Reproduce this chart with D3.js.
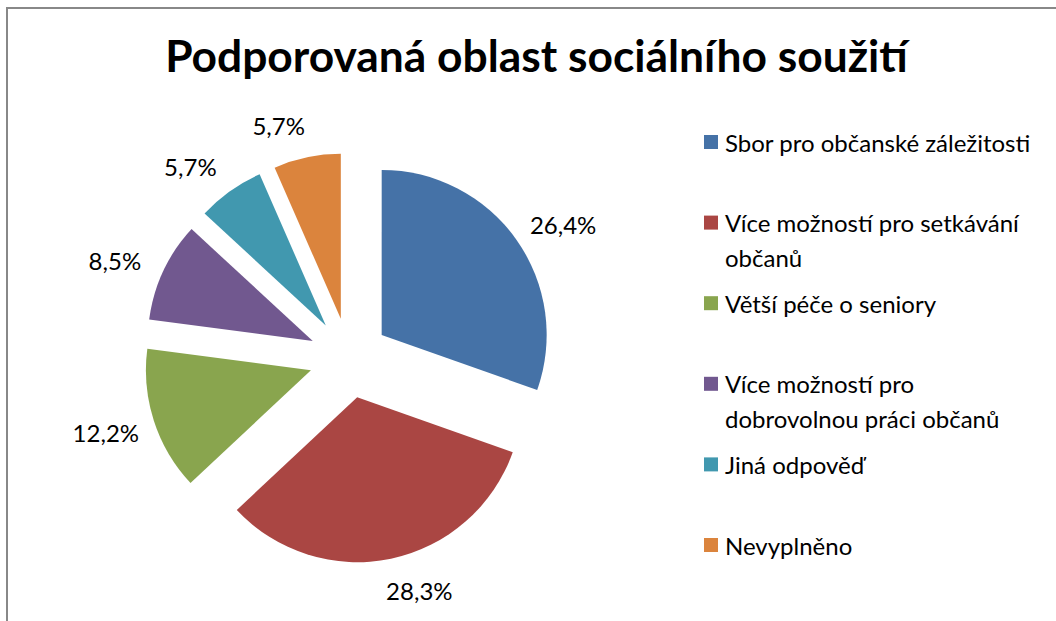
<!DOCTYPE html>
<html>
<head>
<meta charset="utf-8">
<script src="https://cdn.jsdelivr.net/npm/d3@7"></script>
<style>
  body { margin: 0; background: #fff; }
  svg { display: block; font-family: Lato, "Noto Sans", sans-serif; }
</style>
</head>
<body>
<div id="chart"></div>
<script>
// Data
const categories = [
    'Sbor pro občanské záležitosti',
    'Více možností pro setkávání\nobčanů',
    'Větší péče o seniory',
    'Více možností pro\ndobrovolnou práci občanů',
    'Jiná odpověď',
    'Nevyplněno'
];
const values = [26.4, 28.3, 12.2, 8.5, 5.7, 5.7];
const colors = ['#4572A7', '#AA4643', '#89A54E', '#71588F', '#4198AF', '#DB843D'];
const title = 'Podporovaná oblast sociálního soužití';

const width = 1056, height = 621;
const center = { x: 349, y: 358 };
const radius = 165;
const explode = 40;
// small angle tweaks (degrees) so labels sit like Excel's best-fit placement
const labelNudge = [4, -6, 1, -3, -5, -6];

const data = categories.map((c, i) => ({ name: c, value: values[i], color: colors[i] }));

const svg = d3.select('#chart')
    .append('svg')
    .attr('width', width)
    .attr('height', height);

// chart frame (only top and left edges are visible in the picture)
svg.append('path')
    .attr('d', `M7,${height} V8 H${width}`)
    .attr('fill', 'none')
    .attr('stroke', '#888888')
    .attr('stroke-width', 2);

// Title, fitted to the width it takes in the picture
const titleText = svg.append('text')
    .attr('x', 536.5)
    .attr('y', 72)
    .attr('text-anchor', 'middle')
    .attr('font-weight', 'bold')
    .attr('font-size', 40)
    .attr('fill', '#000')
    .text(title);
const tw = titleText.node().getComputedTextLength();
titleText.attr('font-size', 40 * 743 / tw);

const pie = d3.pie()
    .sort(null)
    .value(d => d.value);

const arc = d3.arc()
    .innerRadius(0)
    .outerRadius(radius);

const arcs = pie(data);
const mid = d => (d.startAngle + d.endAngle) / 2;

const slices = svg.append('g')
    .attr('transform', `translate(${center.x},${center.y})`);

slices.selectAll('path')
    .data(arcs)
    .join('path')
    .attr('transform', d => `translate(${Math.sin(mid(d)) * explode},${-Math.cos(mid(d)) * explode})`)
    .attr('d', arc)
    .attr('fill', d => d.data.color);

// Percentage labels outside each slice
slices.selectAll('text')
    .data(arcs)
    .join('text')
    .attr('transform', (d, i) => {
        const m = mid(d);
        const a = m + labelNudge[i] * Math.PI / 180;
        const dist = radius + 35 + 15 * Math.abs(Math.sin(m));
        const x = Math.sin(m) * explode + Math.sin(a) * dist;
        const y = -Math.cos(m) * explode - Math.cos(a) * dist;
        return `translate(${x},${y})`;
    })
    .attr('text-anchor', 'middle')
    .attr('dominant-baseline', 'central')
    .attr('font-size', 24)
    .attr('fill', '#000')
    .text(d => d3.format('.1f')(d.data.value).replace('.', ',') + '%');

// Legend
const legendY = d3.scalePoint()
    .domain(d3.range(categories.length))
    .range([142, 545]);

const legend = svg.append('g')
    .selectAll('g')
    .data(data)
    .join('g')
    .attr('transform', (d, i) => `translate(704,${legendY(i)})`);

legend.append('rect')
    .attr('x', 0)
    .attr('y', -7)
    .attr('width', 14)
    .attr('height', 14)
    .attr('fill', d => d.color);

legend.append('text')
    .attr('x', 21)
    .attr('font-size', 24)
    .attr('fill', '#000')
    .selectAll('tspan')
    .data(d => d.name.split('\n'))
    .join('tspan')
    .attr('x', 21)
    .attr('y', (d, i) => i * 35)
    .attr('dominant-baseline', 'central')
    .text(d => d);
</script>
</body>
</html>
